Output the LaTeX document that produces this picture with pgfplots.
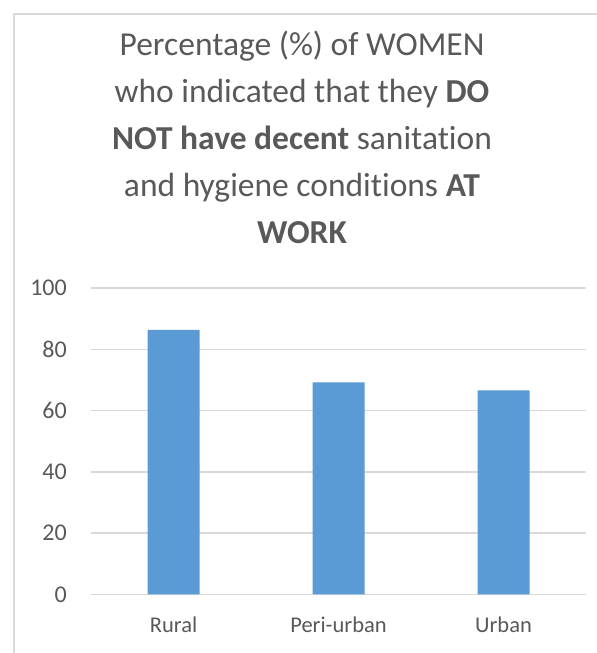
\documentclass[border=0pt]{standalone}
\usepackage{pgfplots}
\pgfplotsset{compat=1.18}
\usepackage{fontspec}
\setmainfont{Carlito}[Ligatures=NoCommon]
\definecolor{barblue}{HTML}{5B9BD5}
\definecolor{gridgray}{HTML}{D9D9D9}
\definecolor{textgray}{HTML}{595959}
\begin{document}
\begin{tikzpicture}
\useasboundingbox (0,0) rectangle (597bp,-653bp);
\fill[white] (0,0) rectangle (597bp,-653bp);
\draw[gridgray, line width=1.5bp] (14bp,-653bp) -- (14bp,-14bp) -- (597bp,-14bp);
\node[anchor=base, align=center, text=textgray, inner sep=0pt,
      font=\fontsize{33.5bp}{47bp}\selectfont] at (302bp,-243bp)
  {Percentage (\%) of WOMEN\\
   who indicated that they \textbf{DO}\\
   \textbf{NOT have decent} sanitation\\
   and hygiene conditions \textbf{AT}\\
   \textbf{WORK}};
\begin{axis}[
  at={(91bp,-594.3bp)}, anchor=south west,
  scale only axis, width=495bp, height=306.3bp,
  xmin=-0.5, xmax=2.5, ymin=0, ymax=100,
  xtick={0,1,2}, xticklabels={Rural,Peri-urban,Urban},
  ytick={0,20,40,60,80,100},
  axis line style={draw=none},
  major tick length=0pt,
  ymajorgrids, grid style={gridgray, line width=1.5bp},
  /pgf/number format/assume math mode=true,
  yticklabel style={font=\fontsize{24bp}{28bp}\selectfont, text=textgray, anchor=east, inner sep=0pt, xshift=-24bp},
  xticklabel style={font=\fontsize{22.5bp}{27bp}\selectfont, text=textgray, anchor=base, inner sep=0pt, yshift=-38.4bp},
  clip=false,
]
\addplot[ybar, bar width=52bp, fill=barblue, draw=none] coordinates {(0,86.3) (1,69.2) (2,66.6)};
\end{axis}
\end{tikzpicture}
\end{document}
